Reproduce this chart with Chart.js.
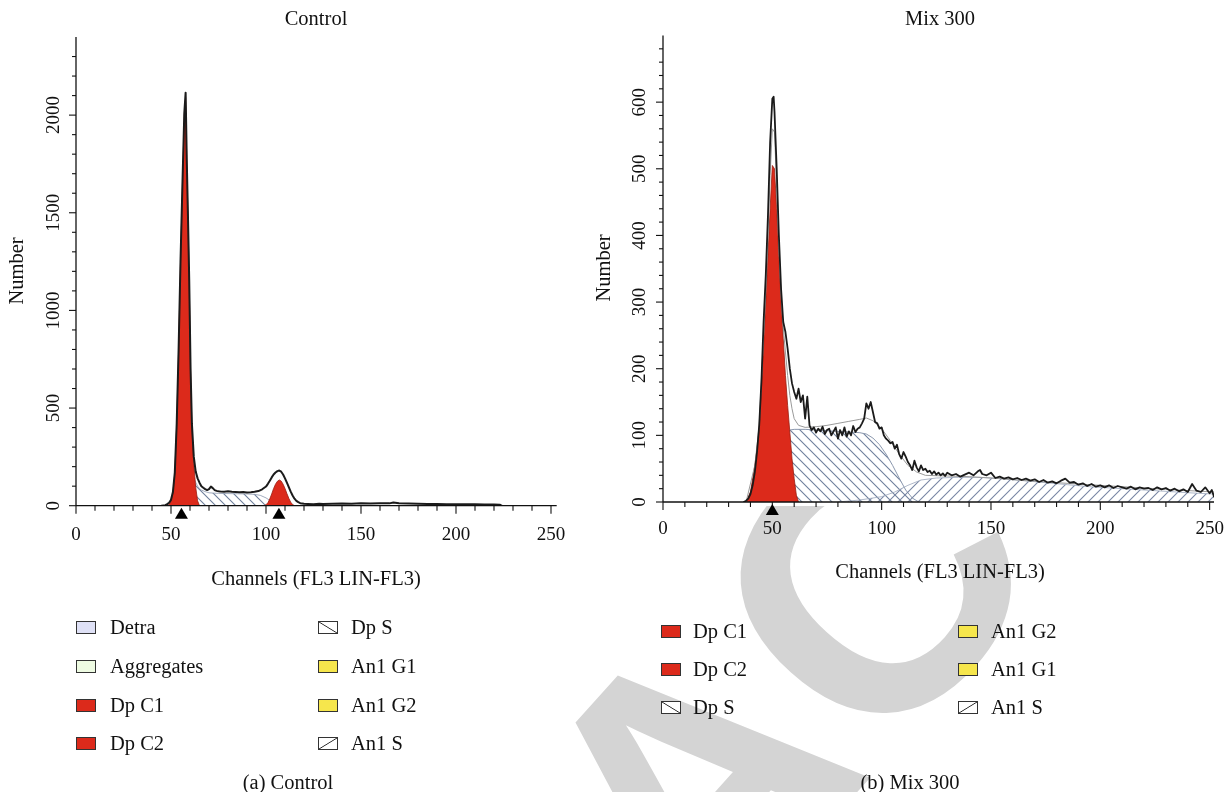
<!DOCTYPE html>
<html><head><meta charset="utf-8">
<script src="https://cdn.jsdelivr.net/npm/chart.js@4.4.1/dist/chart.umd.min.js"></script>
<style>
html,body{margin:0;padding:0;background:#fff;width:1225px;height:792px;overflow:hidden;position:relative;font-family:'Liberation Serif',serif;color:#111;}
#wm{position:absolute;left:0;top:0;z-index:0}
#cA{position:absolute;left:0;top:0;z-index:1}
#cB{position:absolute;left:580px;top:0;z-index:1}
#legend{position:absolute;left:0;top:0;width:1225px;height:792px;z-index:2;font-size:20.5px}
.txt{position:absolute;white-space:nowrap;line-height:22px;}
.box{position:absolute;width:20px;height:13px;border:1px solid #333;box-sizing:border-box;}
.cap{position:absolute;white-space:nowrap;line-height:22px;transform:translateX(-50%);}
</style></head>
<body>
<canvas id="wm" width="1225" height="792"></canvas>
<canvas id="cA" width="580" height="600"></canvas>
<canvas id="cB" width="645" height="600"></canvas>
<div id="legend"></div>
<script>
// ---------------- DATA ----------------
const xTickLabels = [0, 50, 100, 150, 200, 250];
const controlYTickLabels = [0, 500, 1000, 1500, 2000];
const mixYTickLabels = [0, 100, 200, 300, 400, 500, 600];

// Control panel: [channel, number]
const controlTotal = [[45,0],[47,3],[48,8],[49,15],[50,30],[51,70],[52,170],[53,420],[54,800],[55,1250],[56,1640],[57,2010],[57.7,2115],[58.3,1770],[59,1450],[59.6,1150],[60.3,700],[61,420],[62,250],[63,175],[64,140],[65,118],[66,100],[67,92],[68,85],[69,80],[70,85],[71,98],[72,90],[73,80],[74,76],[75,74],[76,73],[78,72],[80,74],[82,71],[84,70],[86,69],[88,70],[90,68],[92,69],[94,71],[96,75],[98,84],[100,98],[101,112],[102,128],[103,145],[104,160],[105,170],[106,177],[107,180],[108,174],[109,160],[110,140],[111,118],[112,95],[113,72],[114,52],[115,36],[116,25],[117,18],[118,13],[120,10],[122,9],[125,8],[128,10],[130,9],[135,10],[140,11],[145,10],[150,12],[155,11],[160,13],[165,12],[167,16],[170,12],[175,11],[180,10],[185,9],[190,9],[195,8],[200,8],[205,7],[210,7],[215,6],[220,6],[223,5],[224,0]];
const controlDpC1 = [[48,0],[49,5],[50,25],[51,65],[52,165],[53,415],[54,795],[55,1245],[56,1630],[57,2000],[57.7,2090],[58.3,1760],[59,1440],[59.6,1140],[60.3,690],[61,400],[62,215],[63,95],[64,25],[65,0]];
const controlDpC2 = [[99,0],[100,5],[101,15],[102,35],[103,60],[104,88],[105,110],[106,125],[107,132],[108,126],[109,110],[110,88],[111,62],[112,38],[113,18],[114,6],[115,0]];
const controlDpS = [[58,0],[60,120],[61,150],[62,140],[63,120],[64,100],[65,88],[66,80],[68,72],[70,66],[75,63],[80,62],[85,61],[90,60],[94,58],[97,53],[100,40],[102,27],[104,12],[106,3],[107,0]];
const controlMarkers = [55.5, 106.8];

// Mix 300 panel: [channel, number]
const mixTotal = [[37,0],[38,2],[39,5],[40,12],[41,25],[42,45],[43,75],[44,115],[45,180],[46,270],[47,340],[48,430],[49,540],[50,605],[50.6,608],[51,585],[52,500],[53,400],[54,320],[55,270],[56,255],[57,230],[58,200],[59,178],[60,165],[61,155],[62,170],[63,150],[64,160],[65,125],[66,158],[67,115],[68,108],[69,112],[70,104],[71,110],[72,106],[73,113],[74,102],[75,108],[76,110],[77,100],[78,106],[79,112],[80,95],[81,108],[82,100],[83,112],[84,98],[85,106],[86,100],[87,114],[88,105],[89,110],[90,112],[91,118],[92,125],[93,148],[94,140],[95,150],[96,135],[97,120],[98,118],[99,110],[100,112],[101,100],[102,95],[103,92],[104,88],[105,90],[106,80],[107,86],[108,72],[109,65],[110,75],[111,68],[112,60],[113,55],[114,48],[115,62],[116,52],[117,46],[118,55],[119,48],[120,50],[121,45],[122,47],[123,42],[124,46],[125,41],[126,44],[127,40],[128,43],[129,39],[130,44],[132,40],[134,42],[136,38],[138,41],[140,44],[142,40],[144,46],[145,48],[146,42],[148,40],[150,44],[152,36],[154,38],[156,35],[158,37],[160,34],[162,36],[164,33],[166,35],[168,32],[170,34],[172,30],[174,33],[176,29],[178,31],[180,28],[182,32],[184,35],[186,29],[188,30],[190,26],[192,28],[194,24],[196,27],[198,23],[200,25],[202,22],[204,25],[206,21],[208,24],[210,22],[212,20],[214,23],[216,19],[218,22],[220,20],[222,21],[224,18],[226,22],[228,19],[230,21],[232,17],[234,20],[236,16],[238,19],[240,15],[242,27],[244,17],[246,15],[248,22],[250,13],[251,18],[252,8]];
const mixFit = [[38,0],[42,55],[44,115],[46,250],[47,320],[48,400],[49,490],[50,560],[51,555],[52,470],[53,380],[54,310],[55,262],[56,225],[57,190],[58,160],[59,140],[60,125],[62,115],[65,112],[70,113],[75,115],[80,118],[85,121],[90,124],[93,126],[96,122],[100,110],[104,92],[108,72],[112,55],[116,45],[120,40],[130,39],[140,38],[150,36],[170,31],[200,25],[230,19],[252,15]];
const mixDpC1 = [[38,0],[40,15],[42,55],[43,80],[44,110],[45,170],[46,235],[47,300],[48,370],[49,440],[50,505],[51,500],[52,440],[53,370],[54,300],[55,245],[56,190],[57,145],[58,105],[59,65],[60,35],[61,10],[62,0]];
const mixDpS = [[55,0],[56,60],[57,100],[58,108],[60,109],[65,109],[70,108],[75,107],[80,106],[85,105],[90,104],[93,102],[96,96],[99,86],[102,72],[105,55],[108,36],[111,18],[114,6],[117,0]];
const mixAn1S = [[80,0],[90,3],[100,8],[106,15],[112,25],[118,33],[125,36],[135,37],[145,37],[155,35],[165,32],[175,29],[185,26],[195,23],[205,21],[215,19],[225,17],[235,15],[245,13],[252,12]];
const mixMarkers = [50];

const legendControl = ['Detra','Aggregates','Dp C1','Dp C2','Dp S','An1 G1','An1 G2','An1 S'];
const legendMix = ['Dp C1','Dp C2','Dp S','An1 G2','An1 G1','An1 S'];

// ---------------- HELPERS ----------------
const FONT = '"Liberation Serif", "DejaVu Serif", serif';
const RED = '#dc2a1b';
function pts(arr){ return arr.map(p => ({x: p[0], y: p[1]})); }
function hatch(dir, color){
  const c = document.createElement('canvas'); c.width = 10; c.height = 10;
  const g = c.getContext('2d'); g.strokeStyle = color; g.lineWidth = 1.1;
  g.beginPath();
  if (dir === 'back') { g.moveTo(-1,-1); g.lineTo(11,11); g.moveTo(-1,9); g.lineTo(1,11); g.moveTo(9,-1); g.lineTo(11,1); }
  else { g.moveTo(-1,11); g.lineTo(11,-1); g.moveTo(-1,1); g.lineTo(1,-1); g.moveTo(9,11); g.lineTo(11,9); }
  g.stroke();
  return g.createPattern(c, 'repeat');
}

const axesPlugin = {
  id: 'customAxes',
  afterDraw(chart, args, o){
    const ctx = chart.ctx, xs = chart.scales.x, ys = chart.scales.y, ca = chart.chartArea;
    const y0 = ys.getPixelForValue(0);
    ctx.save();
    ctx.strokeStyle = '#111'; ctx.lineWidth = 1.3;
    ctx.beginPath(); ctx.moveTo(ca.left, y0); ctx.lineTo(ca.right, y0); ctx.stroke();
    ctx.beginPath(); ctx.moveTo(ca.left, y0); ctx.lineTo(ca.left, ca.top); ctx.stroke();
    ctx.lineWidth = 1.1;
    for (let v = 0; v <= 250; v += 10){
      const px = xs.getPixelForValue(v); const len = (v % 50 === 0) ? 8 : 5;
      ctx.beginPath(); ctx.moveTo(px, y0); ctx.lineTo(px, y0 + len); ctx.stroke();
    }
    for (let v = 0; v <= o.yTickMax; v += o.yMinor){
      const py = ys.getPixelForValue(v); const len = (v % o.yMajor === 0) ? 7 : 4;
      ctx.beginPath(); ctx.moveTo(ca.left, py); ctx.lineTo(ca.left - len, py); ctx.stroke();
    }
    ctx.fillStyle = '#111';
    ctx.font = '19px ' + FONT; ctx.textAlign = 'center'; ctx.textBaseline = 'middle';
    xTickLabels.forEach(v => ctx.fillText(String(v), xs.getPixelForValue(v), o.xLabelY));
    o.yLabels.forEach(v => {
      ctx.save(); ctx.translate(o.yLabelX, ys.getPixelForValue(v)); ctx.rotate(-Math.PI/2);
      ctx.fillText(String(v), 0, 0); ctx.restore();
    });
    ctx.font = '20.5px ' + FONT;
    ctx.fillText(o.title, o.titleX, 20);
    ctx.fillText('Channels (FL3 LIN-FL3)', o.titleX, o.xTitleY);
    ctx.save(); ctx.translate(o.yTitleX, o.yTitleY); ctx.rotate(-Math.PI/2); ctx.fillText('Number', 0, 0); ctx.restore();
    // peak markers
    ctx.fillStyle = '#000';
    o.markers.forEach(m => {
      const px = xs.getPixelForValue(m);
      ctx.beginPath(); ctx.moveTo(px, y0 + 2); ctx.lineTo(px - 6.5, y0 + 13); ctx.lineTo(px + 6.5, y0 + 13); ctx.closePath(); ctx.fill();
    });
    ctx.restore();
  }
};

function line(data, color, width, order){
  return {data: pts(data), showLine: true, pointRadius: 0, borderColor: color, borderWidth: width, fill: false, order: order, tension: 0, borderJoinStyle: 'round', borderCapStyle: 'round'};
}
function area(data, bg, border, width, order){
  return {data: pts(data), showLine: true, pointRadius: 0, borderColor: border, borderWidth: width, backgroundColor: bg, fill: 'origin', order: order, tension: 0, borderJoinStyle: 'round'};
}

function makeChart(id, datasets, pad, xMax, yMax, axOpts){
  return new Chart(document.getElementById(id), {
    type: 'scatter',
    data: {datasets: datasets},
    options: {
      responsive: false, animation: false, events: [],
      layout: {padding: pad},
      scales: {
        x: {type: 'linear', min: 0, max: xMax, display: false},
        y: {type: 'linear', min: 0, max: yMax, display: false}
      },
      plugins: {legend: {display: false}, tooltip: {enabled: false}, customAxes: axOpts}
    },
    plugins: [axesPlugin]
  });
}

// ---------------- WATERMARK ----------------
(function(){
  const c = document.getElementById('wm'); const g = c.getContext('2d');
  g.save();
  g.beginPath(); g.rect(0, 0, 1225, 792); g.rect(600, 0, 625, 506);
  g.clip('evenodd');
  g.translate(697, 970); g.rotate(-48 * Math.PI / 180);
  g.font = 'bold 372px "Liberation Sans", Arial, sans-serif';
  g.fillStyle = '#d4d4d4'; g.textBaseline = 'alphabetic';
  g.fillText('ACTED', 0, 0);
  g.textAlign = 'right'; g.fillText('RETR', 0, 0);
  g.restore();
})();

// ---------------- CHARTS ----------------
const backC = hatch('back', '#6f7f9c');
const backM = hatch('back', '#6f7f9c');
const fwdM = hatch('fwd', '#7886a4');

makeChart('cA', [
  line(controlTotal, '#1b1b1b', 2, 0),
  area(controlDpC1, RED, '#9a1e12', 0.8, 2),
  area(controlDpC2, RED, '#9a1e12', 0.8, 3),
  area(controlDpS, backC, '#8a97ad', 0.8, 5)
], {left: 76, right: 23.3, top: 37, bottom: 94.3}, 253, 2400, {
  yTickMax: 2300, yMinor: 100, yMajor: 500, yLabels: controlYTickLabels,
  xLabelY: 535, yLabelX: 54, title: 'Control', titleX: 316, xTitleY: 580,
  yTitleX: 18, yTitleY: 271, markers: controlMarkers
});

makeChart('cB', [
  line(mixTotal, '#1b1b1b', 1.8, 0),
  line(mixFit, '#9a9a9a', 1, 1),
  area(mixDpC1, RED, '#9a1e12', 0.8, 2),
  area(mixAn1S, fwdM, '#9aa6bb', 0.8, 4),
  area(mixDpS, backM, '#8a97ad', 1, 5)
], {left: 83, right: 11, top: 35.5, bottom: 98}, 252, 700, {
  yTickMax: 680, yMinor: 20, yMajor: 100, yLabels: mixYTickLabels,
  xLabelY: 529, yLabelX: 60, title: 'Mix 300', titleX: 360, xTitleY: 573,
  yTitleX: 25, yTitleY: 268, markers: mixMarkers
});

// ---------------- LEGENDS (HTML) ----------------
const swatch = {
  'Detra': 'background:#dfe1f6',
  'Aggregates': 'background:#eefbe2',
  'Dp C1': 'background:' + RED,
  'Dp C2': 'background:' + RED,
  'An1 G1': 'background:#f6e64c',
  'An1 G2': 'background:#f6e64c',
  'Dp S': 'background:linear-gradient(to top right,#fff calc(50% - 0.8px),#222 50%,#fff calc(50% + 0.8px))',
  'An1 S': 'background:linear-gradient(to bottom right,#fff calc(50% - 0.8px),#222 50%,#fff calc(50% + 0.8px))'
};
const L = document.getElementById('legend');
function addItem(label, boxX, textX, cy){
  const b = document.createElement('div'); b.className = 'box';
  b.style.cssText = swatch[label] + ';left:' + boxX + 'px;top:' + (cy - 6.5) + 'px';
  L.appendChild(b);
  const t = document.createElement('div'); t.className = 'txt'; t.textContent = label;
  t.style.left = textX + 'px'; t.style.top = (cy - 11) + 'px';
  L.appendChild(t);
}
const rowsA = [627, 666, 705, 743];
legendControl.forEach((lab, i) => {
  const col = Math.floor(i / 4), r = i % 4;
  addItem(lab, col ? 318 : 76, col ? 351 : 110, rowsA[r]);
});
const rowsB = [631, 669, 707];
legendMix.forEach((lab, i) => {
  const col = Math.floor(i / 3), r = i % 3;
  addItem(lab, col ? 958 : 661, col ? 991 : 693, rowsB[r]);
});
function cap(text, cx){
  const d = document.createElement('div'); d.className = 'cap'; d.textContent = text;
  d.style.left = cx + 'px'; d.style.top = '771px'; L.appendChild(d);
}
cap('(a) Control', 288);
cap('(b) Mix 300', 910);
</script>
</body></html>
